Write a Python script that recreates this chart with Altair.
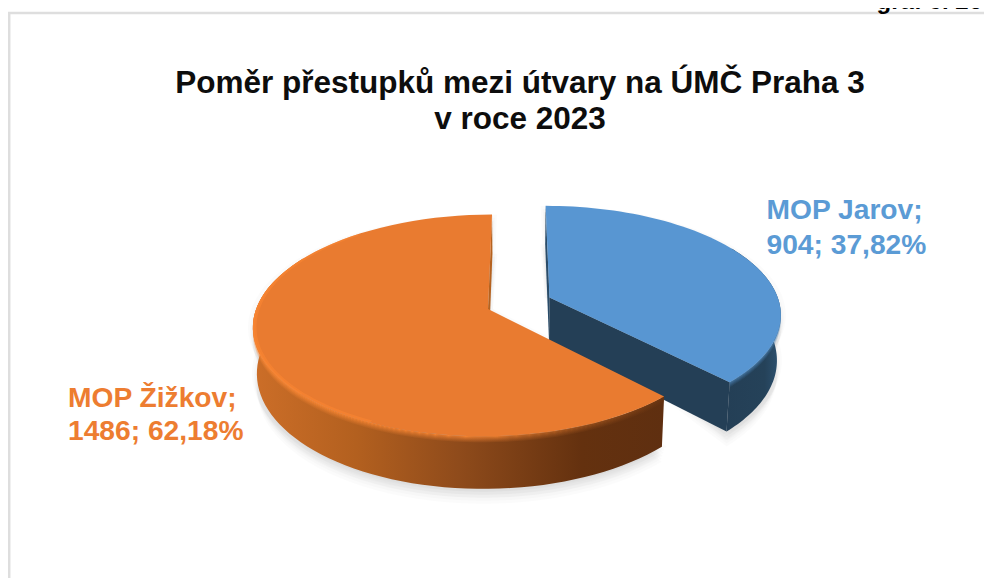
import numpy as np
import pandas as pd
import altair as alt

# ---- chart content ----
categories = ["MOP Jarov", "MOP Žižkov"]
values = [904, 1486]
percents = ["37,82%", "62,18%"]
title_lines = ["Poměr přestupků mezi útvary na ÚMČ Praha 3", "v roce 2023"]
corner_note = "graf č. 26"

W, H = 976, 570
OFF = 8
xs = alt.X("x:Q", scale=alt.Scale(domain=[0, W], range=[0, W]), axis=None)
ys = alt.Y("y:Q", scale=alt.Scale(domain=[0, H], range=[0, H]), axis=None)

# perspective disc model, page pixels
XV, YV, RX, RY, P, DEPTH, SHRINK = 519, 303.2, 230, 106.7, 0.147, 44.5, 0.985
EXPLODE = 0.144

share = np.array(values) / sum(values)
split = 360 * share[0]
mid_blue = np.radians(split / 2)
CB = (EXPLODE * np.sin(mid_blue), -EXPLODE * np.cos(mid_blue))
CO = (-CB[0], -CB[1])


def top(theta, c, r=1.0):
    t = np.radians(theta)
    u = c[0] + r * np.sin(t)
    v = c[1] - r * np.cos(t)
    w = 1 - P * v
    return XV + RX * u / w - OFF, YV + RY * v / w - OFF, w


def bottom(theta, c, r=1.0):
    x, y, w = top(theta, c, r)
    return XV - OFF + (x - XV + OFF) * SHRINK, y + DEPTH / w


def arc(a, b, c, n=70):
    return np.linspace(a, b, n)


def poly(px, py, fill, opacity=1.0):
    df = pd.DataFrame({"x": px, "y": py, "o": range(len(px))})
    return alt.Chart(df).mark_line(fill=fill, strokeWidth=0, opacity=opacity, clip=False).encode(
        x=xs, y=ys, order=alt.Order("o:Q")
    )


def grad(stops):
    return alt.Gradient(
        gradient="linear", x1=0, x2=1, y1=0, y2=0,
        stops=[alt.GradientStop(offset=o, color=c) for o, c in stops],
    )


def face(a, b, c):
    t = arc(a, b, c)
    x, y, _ = top(t, c)
    vx, vy, _ = top(0, c, 0)
    return np.r_[vx, x], np.r_[vy, y]


def outer_wall(a, b, c):
    t = arc(a, b, c)
    x, y, _ = top(t, c)
    bx, by = bottom(t, c)
    return np.r_[x, bx[::-1]], np.r_[y, by[::-1]]


def radial_wall(theta, c):
    x1, y1, _ = top(theta, c)
    x0, y0, _ = top(theta, c, 0)
    bx1, by1 = bottom(theta, c)
    bx0, by0 = bottom(theta, c, 0)
    return [x0, x1, bx1, bx0], [y0, y1, by1, by0]


def band(a, b, c, d0, d1):
    t = arc(a, b, c)
    x, y, w = top(t, c)
    return np.r_[x, x[::-1]], np.r_[y + d0, (y + d1)[::-1]]


def rim(a, b, c, r0, r1=1.0):
    t = arc(a, b, c)
    x, y, _ = top(t, c, r1)
    ix, iy, _ = top(t, c, r0)
    return np.r_[x, ix[::-1]], np.r_[y, iy[::-1]]


def sector_shadow(a, b, c, dx, dy):
    t = arc(a, b, c)
    bx, by = bottom(t, c)
    vx, vy, _ = top(0, c, 0)
    return np.r_[vx + dx, bx + dx], np.r_[vy + dy, by + dy]


layers = []

# frame of the cropped page
frame_color = "#DEDEDE"
layers.append(alt.Chart(pd.DataFrame({"a": [0]})).mark_rule(color=frame_color, strokeWidth=2.5).encode(
    x=alt.value(1.2), y=alt.value(5), y2=alt.value(H)))
layers.append(alt.Chart(pd.DataFrame({"a": [0]})).mark_rule(color=frame_color, strokeWidth=2.5).encode(
    x=alt.value(0), x2=alt.value(W), y=alt.value(5)))

# soft drop shadow
for dx, dy in [(5, 0), (-5, 0), (3, 3), (-3, 3), (2, 6), (-2, 6), (1, 9), (-1, 9), (0, 12), (0, 15)]:
    for a, b, c in [(0, split, CB), (split, 360, CO)]:
        px, py = sector_shadow(a, b, c, dx, dy)
        layers.append(poly(px, py, "#000000", 0.016))
        t = arc(a, b, c)
        x, y, _ = top(t, c)
        vx, vy, _ = top(0, c, 0)
        layers.append(poly(np.r_[vx, x] + dx, np.r_[vy, y] + dy, "#000000", 0.016))

# blue slice
px, py = radial_wall(0, CB)
layers.append(poly(px, py, "#2A4C69"))
px, py = outer_wall(60, split, CB)
layers.append(poly(px, py, grad([(0, "#243F56"), (0.7, "#254259"), (1, "#2D5373")])))
px, py = radial_wall(split, CB)
layers.append(poly(px, py, "#243F56"))
for d0, d1, op in [(0, 1, 0.8), (1, 2, 0.6), (2, 3, 0.42), (3, 4, 0.28), (4, 5, 0.14)]:
    px, py = band(70, split, CB, d0, d1)
    layers.append(poly(px, py, "#4E86B8", op))
px, py = face(0, split, CB)
layers.append(poly(px, py, "#5896D2"))

# orange slice
px, py = radial_wall(360, CO)
layers.append(poly(px, py, "#B5621F"))
px, py = outer_wall(split, 300, CO)
layers.append(poly(px, py, grad([(0, "#CC6E28"), (0.25, "#B3601F"), (0.5, "#8F4B1B"), (0.8, "#64310F"), (1, "#5F2F10")])))
rim_grad = grad([(0, "#FF8A35"), (0.55, "#F98633"), (0.78, "#A9591F"), (1, "#6B3612")])
for d0, d1, op in [(0, 1, 0.9), (1, 2, 0.72), (2, 3, 0.55), (3, 4, 0.4), (4, 5, 0.26), (5, 6, 0.14)]:
    px, py = band(split, 285, CO, d0, d1)
    layers.append(poly(px, py, rim_grad, op))
px, py = face(split, 360, CO)
layers.append(poly(px, py, "#E97B30"))
px, py = rim(205, 320, CO, 0.985)
layers.append(poly(px, py, "#FB8733", 0.55))
px, py = rim(225, 300, CO, 0.993)
layers.append(poly(px, py, "#FB8733", 0.5))

# texts
text_df = pd.DataFrame({
    "x": [512, 512, 758.5, 758.5, 60, 60],
    "y": [84.5, 121, 211, 246, 398.5, 432],
    "t": [title_lines[0], title_lines[1],
          f"{categories[0]};", f"{values[0]}; {percents[0]}",
          f"{categories[1]};", f"{values[1]}; {percents[1]}"],
})
FONT = "Liberation Sans"
layers.append(alt.Chart(text_df.iloc[:2]).mark_text(
    font=FONT, fontWeight="bold", fontSize=31.5, color="#0D0D0D", align="center", baseline="alphabetic"
).encode(x=xs, y=ys, text="t:N"))
layers.append(alt.Chart(text_df.iloc[2:4]).mark_text(
    font=FONT, fontWeight="bold", fontSize=28.2, color="#5B9BD5", align="left", baseline="alphabetic"
).encode(x=xs, y=ys, text="t:N"))
layers.append(alt.Chart(text_df.iloc[4:6]).mark_text(
    font=FONT, fontWeight="bold", fontSize=28.2, color="#ED7D31", align="left", baseline="alphabetic"
).encode(x=xs, y=ys, text="t:N"))
layers.append(alt.Chart(pd.DataFrame({"x": [974], "y": [0.5], "t": [corner_note]})).mark_text(
    font=FONT, fontWeight="bold", fontSize=24, color="#000000", align="right", baseline="alphabetic"
).encode(x=xs, y=ys, text="t:N"))

chart = alt.layer(*layers).properties(
    width=W, height=H, padding=0, background="white", autosize=alt.AutoSizeParams(type="none")
).configure_view(stroke=None)

chart.save("out.html", embed_options={"renderer": "svg", "actions": False})
